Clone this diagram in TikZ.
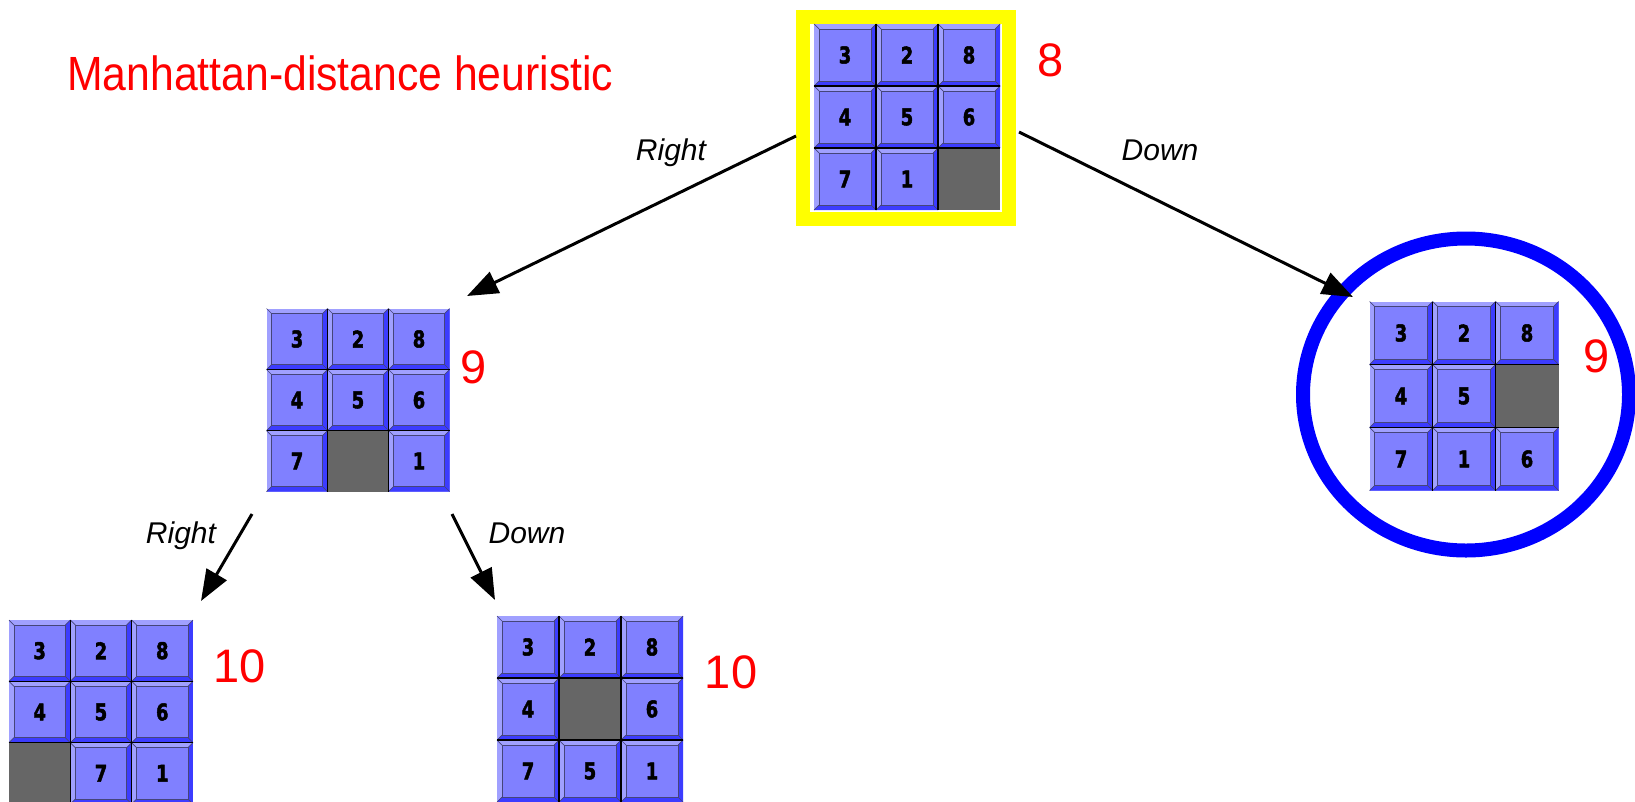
\documentclass[tikz,border=0pt]{standalone}
\usepackage{fontspec}
\setmainfont{Liberation Sans}
\newfontfamily\tilefont[BoldFeatures={FakeBold=2.2}]{DejaVu Sans}
\usetikzlibrary{arrows.meta}
\definecolor{tileface}{HTML}{8080FF}
\definecolor{tilelite}{HTML}{A0A0FF}
\definecolor{tiledark}{HTML}{3C3CFF}
\definecolor{tileedge}{HTML}{45457A}
\definecolor{holegray}{HTML}{666666}
\definecolor{hiyellow}{HTML}{FFFF00}
\definecolor{ringblue}{HTML}{0000FF}
\definecolor{valred}{HTML}{FF0000}
\tikzset{
  tilenum/.style={inner sep=0pt, text=black, font=\tilefont\bfseries\fontsize{23}{23}\selectfont},
  boardbox/.style={draw=none, inner sep=0pt, outer sep=0pt, rectangle},
  gridline/.style={black, line width=1.1pt},
  valnum/.style={inner sep=0pt, text=valred, font=\fontsize{47}{47}\selectfont},
  edgelbl/.style={inner sep=0pt, text=black, font=\itshape\fontsize{30}{30}\selectfont},
  arr/.style={-{Triangle[length=31pt,width=23pt]}, line width=3pt, black},
  hiframe/.style={draw=hiyellow, line width=14pt, fill=white},
  selring/.style={draw=ringblue, line width=14pt},
}
\newcommand\tilecell[3]{%
  \fill[tilelite] (0,0) rectangle (#1,#1);
  \fill[tiledark] (#1,0) -- (#1,#1) -- (0,#1) -- (5,#1-5) -- (#1-5,#1-5) -- (#1-5,5) -- cycle;
  \draw[tileedge, line width=0.7pt] (0,0) -- (5,5) (#1,0) -- (#1-5,5) (0,#1) -- (5,#1-5) (#1,#1) -- (#1-5,#1-5);
  \filldraw[fill=tileface, draw=tileedge, line width=0.8pt] (5,5) rectangle (#1-5,#1-5);
  \node[tilenum] (#3) at (#1/2,#1/2) {\scalebox{0.78}[1]{#2}};
}
\newcommand\board[5]{%
  \node[boardbox, minimum size={3*#4pt}] (#1) at (#2,#3) {};
  \begin{scope}[shift={(#2-1.5*#4,#3-1.5*#4)}]
    \foreach \v [count=\i from 0] in {#5} {
      \pgfmathtruncatemacro\cc{mod(\i,3)}
      \pgfmathtruncatemacro\rr{div(\i,3)}
      \begin{scope}[shift={(\cc*#4,\rr*#4)}]
        \ifnum\v=0
          \fill[holegray] (0,0) rectangle (#4,#4);
        \else
          \tilecell{#4}{\v}{#1-\v}
        \fi
      \end{scope}
    }
    \draw[gridline] (#4,0) -- (#4,3*#4) (2*#4,0) -- (2*#4,3*#4) (0,#4) -- (3*#4,#4) (0,2*#4) -- (3*#4,2*#4);
  \end{scope}
}
\begin{document}
\begin{tikzpicture}[x=1pt,y=-1pt]
\useasboundingbox (0,0) rectangle (1635,801);
\fill[white] (0,0) rectangle (1635,801);

% title
\node[inner sep=0pt, anchor=base west, text=valred, font=\fontsize{48}{48}\selectfont] (title) at (67,90) {\scalebox{0.89}[1]{Manhattan-distance heuristic}};

% root with yellow highlight
\node[hiframe, minimum width=206pt, minimum height=202pt, inner sep=0pt] (rootframe) at (906,118) {};
\board{root}{907}{117}{62}{3,2,8,4,5,6,7,1,0}
\node[valnum] (hroot) at (1051,60) {8};

% level 1
\board{left}{358}{400}{61}{3,2,8,4,5,6,7,0,1}
\node[valnum] (hleft) at (474,367) {9};
\board{right}{1464}{396}{63}{3,2,8,4,5,0,7,1,6}
\node[valnum] (hright) at (1597,356) {9};
\draw[selring] (right.center) ++(2,-1.5) ellipse [x radius=163pt, y radius=156pt];

% level 2
\board{ll}{101}{712}{61.3}{3,2,8,4,5,6,0,7,1}
\node[valnum] (hll) at (240,666) {10};
\board{lm}{590}{709}{62}{3,2,8,4,0,6,7,5,1}
\node[valnum] (hlm) at (731,672) {10};

% connectors
\coordinate (rootL) at (796,136);
\coordinate (rootR) at (1019,132);
\coordinate (leftIn) at (467,296);
\coordinate (rightIn) at (1353,297);
\coordinate (leftBL) at (252,514);
\coordinate (leftBR) at (452,514);
\coordinate (llIn) at (201,601);
\coordinate (lmIn) at (495,600);
\draw[arr] (rootL) -- (leftIn);
\draw[arr] (rootR) -- (rightIn);
\draw[arr] (leftBL) -- (llIn);
\draw[arr] (leftBR) -- (lmIn);

% edge labels
\node[edgelbl, anchor=base] (l1) at (671,160) {Right};
\node[edgelbl, anchor=base] (l2) at (1160,160) {Down};
\node[edgelbl, anchor=base] (l3) at (181,543) {Right};
\node[edgelbl, anchor=base] (l4) at (527,543) {Down};
\end{tikzpicture}
\end{document}
